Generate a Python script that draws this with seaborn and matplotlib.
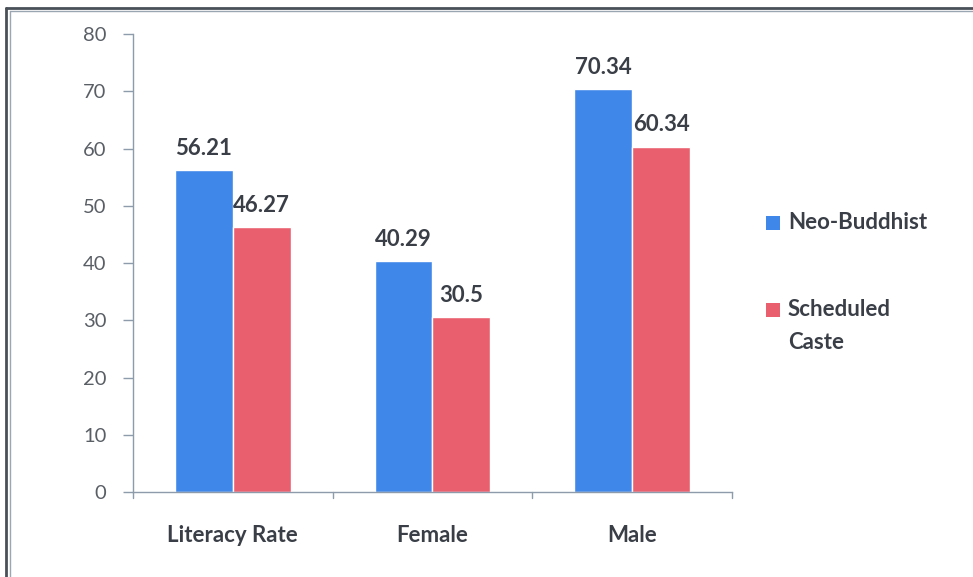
import matplotlib
matplotlib.use("Agg")
import matplotlib.pyplot as plt
from matplotlib.lines import Line2D
from matplotlib.patches import Rectangle
import seaborn as sns
import pandas as pd

categories = ["Literacy Rate", "Female", "Male"]
series_names = ["Neo-Buddhist", "Scheduled\nCaste"]
neo_buddhist = [56.21, 40.29, 70.34]
scheduled_caste = [46.27, 30.5, 60.34]
y_ticks = [0, 10, 20, 30, 40, 50, 60, 70, 80]

colors = ["#3F87E8", "#EA5F6E"]
text_dark = "#3A3F47"
axis_grey = "#8E9BAA"

df = pd.DataFrame({
    "category": categories * 2,
    "group": [series_names[0]] * 3 + [series_names[1]] * 3,
    "value": neo_buddhist + scheduled_caste,
})

sns.set_theme(style="white")
plt.rcParams["font.family"] = ["Lato", "DejaVu Sans"]

fig = plt.figure(figsize=(9.73, 5.77), dpi=100)
ax = fig.add_axes([0.1367, 0.1473, 0.7523 - 0.1367, 0.941 - 0.1473])

sns.barplot(data=df, x="category", y="value", hue="group",
            palette=colors, width=0.58, saturation=1, ax=ax,
            legend=False, errorbar=None)

for container in ax.containers:
    ax.bar_label(container, labels=[f"{v:g}" for v in container.datavalues],
                 padding=8, fontsize=16, fontweight="bold", color=text_dark)

ax.set_xlim(-0.5, 2.5)
ax.set_ylim(0, 80)
ax.set_yticks(y_ticks)
ax.set_yticklabels([str(t) for t in y_ticks], fontsize=14.5, color="#5A5F66")
ax.set_xlabel("")
ax.set_ylabel("")
ax.tick_params(axis="x", length=0, pad=24, labelsize=16, labelcolor=text_dark)
ax.tick_params(axis="y", length=7, width=1, color=axis_grey, pad=12, left=True)
for lbl in ax.get_xticklabels():
    lbl.set_fontweight("bold")

# boundary ticks between category groups
for xb in [-0.5, 0.5, 1.5, 2.5]:
    ax.plot([xb, xb], [0, -0.012], transform=ax.get_xaxis_transform(),
            color=axis_grey, lw=1, clip_on=False)

for side in ["top", "right"]:
    ax.spines[side].set_visible(False)
for side in ["left", "bottom"]:
    ax.spines[side].set_color(axis_grey)
    ax.spines[side].set_linewidth(1)

# legend: swatch beside the first line of each label
W, H = 973, 577
legend_rows = [(series_names[0], colors[0], 223), (series_names[1], colors[1], 310)]
for name, col, yc in legend_rows:
    fig.add_artist(Rectangle((766 / W, 1 - (yc + 7) / H), 14 / W, 14 / H,
                             transform=fig.transFigure, facecolor=col,
                             edgecolor="none"))
    fig.text(788 / W, 1 - (yc - 11) / H, name, ha="left", va="top",
             fontsize=16, fontweight="bold", color=text_dark,
             linespacing=1.7)

# double frame along the top and left edges
fig.add_artist(Line2D([0.0062, 0.0062], [0, 0.986], transform=fig.transFigure,
                      color="#4A5058", lw=2))
fig.add_artist(Line2D([0.0062, 1.0], [0.986, 0.986], transform=fig.transFigure,
                      color="#4A5058", lw=2))
fig.add_artist(Line2D([0.0103, 0.0103], [0, 0.981], transform=fig.transFigure,
                      color="#9AA6B2", lw=1))
fig.add_artist(Line2D([0.0103, 1.0], [0.981, 0.981], transform=fig.transFigure,
                      color="#9AA6B2", lw=1))

fig.savefig("out.png", dpi=100)
